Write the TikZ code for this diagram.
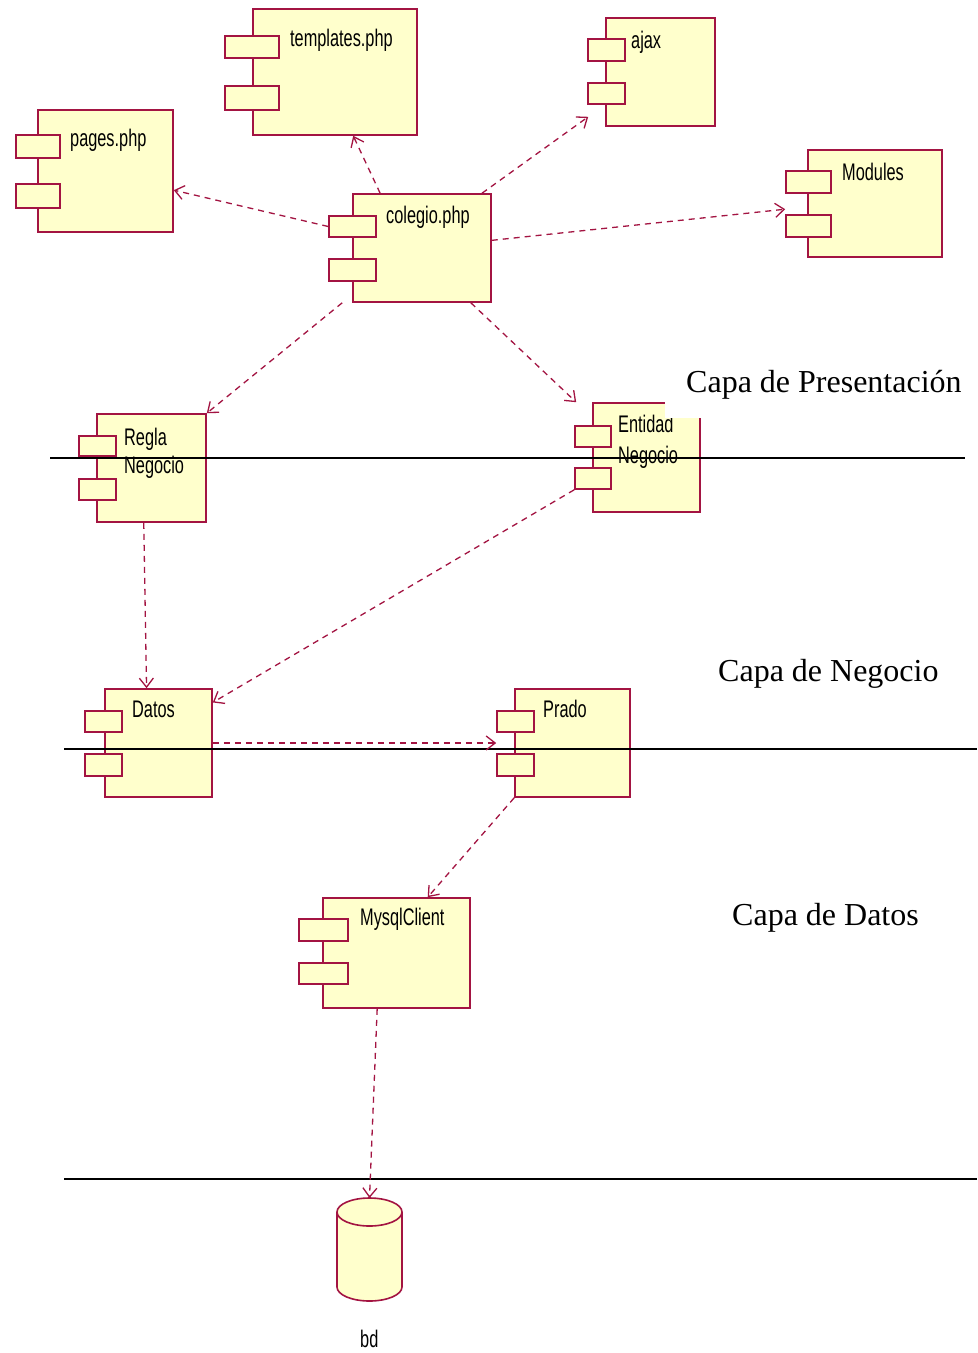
\documentclass[tikz,border=0pt]{standalone}
\usepackage{fontspec}
\setmainfont{Liberation Serif}
\newfontfamily\umlfont[FakeStretch=0.68]{Liberation Sans}
\usetikzlibrary{arrows.meta,calc,fit}
\definecolor{umlred}{RGB}{163,20,66}
\definecolor{umlfill}{RGB}{255,255,204}

% a UML component: main body plus the two small tabs on its left edge
\newcommand\umlcomponent[4]{%
  \node[comp, fit={#2}] (#1) {};
  \node[comp, fit={#3}] (#1-a) {};
  \node[comp, fit={#4}] (#1-b) {};
}

\begin{document}
\begin{tikzpicture}[x=1pt,y=-1pt,
  comp/.style={draw=umlred, fill=umlfill, line width=1.6pt, inner sep=0pt},
  lbl/.style={font=\umlfont\fontsize{24}{28}\selectfont, inner sep=0pt, anchor=base west},
  layer/.style={font=\fontsize{32}{38}\selectfont, inner sep=0pt, anchor=base west},
  dep/.style={draw=umlred, line width=1.3pt, dash pattern=on 6pt off 5pt,
              -{Straight Barb[length=9pt,width=14pt]}},
  sep/.style={draw=black, line width=1.5pt}]

% page frame
\fill[white] (0,0) rectangle (977,1353);

% components
\umlcomponent{templates}{(253,9) (417,135)}{(225,36) (279,58)}{(225,86) (279,110)}
\umlcomponent{pages}{(38,110) (173,232)}{(16,135) (60,158)}{(16,184) (60,208)}
\umlcomponent{coleg}{(353,194) (491,302)}{(329,216) (376,237)}{(329,259) (376,281)}
\umlcomponent{ajax}{(606,18) (715,126)}{(588,39) (625,61)}{(588,83) (625,104)}
\umlcomponent{modules}{(808,150) (942,257)}{(786,171) (831,193)}{(786,215) (831,237)}
\umlcomponent{regla}{(97,414) (206,522)}{(79,436) (116,456)}{(79,479) (116,500)}
\umlcomponent{entidad}{(593,403) (700,512)}{(575,426) (611,447)}{(575,468) (611,489)}
\umlcomponent{datos}{(105,689) (212,797)}{(85,711) (122,732)}{(85,754) (122,776)}
\umlcomponent{prado}{(515,689) (630,797)}{(497,711) (534,732)}{(497,754) (534,776)}
\umlcomponent{mysql}{(323,898) (470,1008)}{(299,919) (348,941)}{(299,963) (348,984)}

% component names
\node[lbl] (templates-t) at (290,46) {templates.php};
\node[lbl] (pages-t) at (70,146) {pages.php};
\node[lbl] (coleg-t) at (386,223) {colegio.php};
\node[lbl] (ajax-t) at (631,48) {ajax};
\node[lbl] (modules-t) at (842,180) {Modules};
\node[lbl] (regla-t1) at (124,445) {Regla};
\node[lbl] (regla-t2) at (124,473) {Negocio};
\node[lbl] (entidad-t1) at (618,432) {Entidad};
\node[lbl] (entidad-t2) at (618,463) {Negocio};
\node[lbl] (datos-t) at (132,717) {Datos};
\node[lbl] (prado-t) at (543,717) {Prado};
\node[lbl] (mysql-t) at (360,925) {MysqlClient};

% database
\fill[umlfill] (337,1212) -- (337,1287)
  arc[start angle=180, end angle=0, x radius=32.5, y radius=14] -- (402,1212) -- cycle;
\draw[umlred, line width=1.6pt, fill=umlfill] (337,1212) -- (337,1287)
  arc[start angle=180, end angle=0, x radius=32.5, y radius=14] -- (402,1212);
\draw[umlred, line width=1.6pt, fill=umlfill] (369.5,1212) ellipse[x radius=32.5, y radius=14];
\coordinate (bd) at (369.5,1198);
\node[lbl] (bd-t) at (360,1347) {bd};

% layer captions
\node[fill=white, inner sep=0pt, anchor=south west, minimum width=312pt, minimum height=60pt] (presbg) at (665,418) {};
\node[layer] (capa1) at (686,392) {Capa de Presentación};
\node[layer] (capa2) at (718,681) {Capa de Negocio};
\node[layer] (capa3) at (732,925) {Capa de Datos};

% layer separators
\draw[sep] (50,458) -- (965,458);
\draw[sep] (64,749) -- (977,749);
\draw[sep] (64,1179) -- (977,1179);

% dependencies
\draw[dep] (coleg-a.west) -- ($(pages.north east)!0.655!(pages.south east)$);
\draw[dep] ($(coleg.north west)!0.2!(coleg.north east)$) -- ($(templates.south west)!0.61!(templates.south east)$);
\draw[dep] ($(coleg.north west)!0.93!(coleg.north east)$) -- ($(ajax.south west)+(-17,-10)$);
\draw[dep] ($(coleg.north east)!0.43!(coleg.south east)$) -- ($(modules.north west)+(-22,60)$);
\draw[dep] ($(coleg.south west)+(-10,0)$) -- (regla.north east);
\draw[dep] ($(coleg.south west)!0.85!(coleg.south east)$) -- ($(entidad.north west)+(-16,0)$);
\draw[dep] ($(regla.south west)!0.43!(regla.south east)$) -- ($(datos.north west)!0.39!(datos.north east)$);
\draw[dep] (entidad-b.south west) -- ($(datos.north east)!0.13!(datos.south east)$);
\draw[dep] (datos.east) -- ($(prado.west)+(-18,0)$);
\draw[dep] (prado.south west) -- ($(mysql.north west)!0.71!(mysql.north east)$);
\draw[dep] ($(mysql.south west)!0.37!(mysql.south east)$) -- (bd);
\end{tikzpicture}
\end{document}
